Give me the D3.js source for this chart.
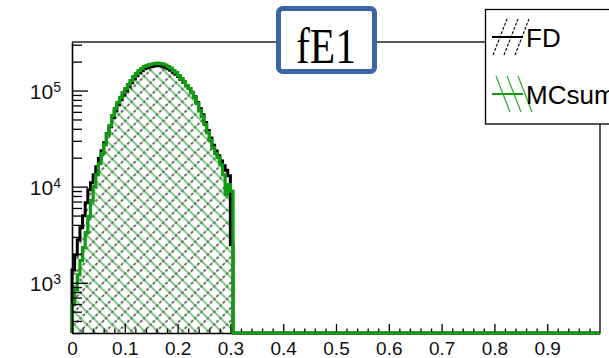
<!DOCTYPE html>
<html><head><meta charset="utf-8">
<script src="https://cdn.jsdelivr.net/npm/d3@7"></script>
<style>html,body{margin:0;padding:0;background:#fff;} svg{display:block;}</style>
</head><body>
<svg id="c" width="609" height="358"></svg>
<script>
// ---- data ----
const binWidth = 0.005;            // histogram bin width; bins beyond the listed ones are empty up to x = 1
const fdCounts = [
  1360, 1950, 2800, 3740, 4990, 6810, 9310, 11000, 13300, 16100,
  19600, 23700, 28700, 35600, 42000, 52000, 61500, 71000, 80000, 90000,
  99500, 109500, 120500, 133000, 142500, 153000, 160500, 169000, 173000, 177000,
  179500, 181500, 183000, 181500, 179500, 175000, 169000, 163000, 155000, 148000,
  140000, 131000, 122000, 112000, 105000, 96000, 86000, 75000, 64500, 56000,
  46500, 38500, 32000, 27000, 23500, 21000, 18500, 16500, 14800, 13000,
  2500
];
const mcCounts = [
  590, 845, 1210, 1700, 2320, 3320, 4870, 7140, 10000, 13300,
  17400, 22100, 27400, 34800, 43200, 55000, 64900, 75000, 84500, 95300,
  105000, 115500, 127000, 140000, 150000, 161000, 169000, 178000, 182000, 186600,
  189000, 191000, 193000, 191000, 189000, 184500, 178000, 171500, 161000, 154000,
  143000, 133000, 124000, 112700, 105000, 95300, 84500, 73300, 61900, 53600,
  44200, 36500, 30100, 25500, 22100, 20000, 16900, 13300, 8250, 10500,
  9000
];
const seriesNames = ["FD", "MCsum"];
const titleText = "fE1";
const xTickLabels = ["0", "0.1", "0.2", "0.3", "0.4", "0.5", "0.6", "0.7", "0.8", "0.9"];
const yDecadeExponents = [3, 4, 5];
const yRange = [300, 3.2e5];

// ---- drawing ----
const W = 609, H = 358;
const svg = d3.select("#c");
svg.append("rect").attr("width", W).attr("height", H).attr("fill", "#fff");

const x = d3.scaleLinear().domain([0, 1]).range([72, 600]);
const y = d3.scaleLog().domain(yRange).range([333, 42]).clamp(true);
const yb = y(yRange[0]);

const GREEN = "#109c10", GREEN_H = "#2ea82e";

const defs = svg.append("defs");
function hatch(id, angle, color, dash, sw) {
  const s = 9;
  const p = defs.append("pattern").attr("id", id)
    .attr("patternUnits", "userSpaceOnUse").attr("width", s).attr("height", s)
    .attr("patternTransform", `rotate(${angle})`);
  p.append("line").attr("x1", 3).attr("y1", 0).attr("x2", 3).attr("y2", s)
    .attr("stroke", color).attr("stroke-width", sw).attr("stroke-dasharray", dash);
}
hatch("hFD", 45, "#111", "3,1.5", 1.2);
hatch("hMC", -45, GREEN_H, null, 1.2);

function stepPath(counts, closed) {
  const p = d3.path();
  p.moveTo(x(0), yb);
  counts.forEach((c, i) => {
    const v = y(Math.max(c, yRange[0]));
    p.lineTo(x(i * binWidth), v);
    p.lineTo(x((i + 1) * binWidth), v);
  });
  p.lineTo(x(counts.length * binWidth), yb);
  if (closed) p.closePath(); else p.lineTo(x(1), yb);
  return p.toString();
}

const gPlot = svg.append("g");
gPlot.append("path").attr("d", stepPath(fdCounts, true)).attr("fill", "url(#hFD)").attr("stroke", "none");
gPlot.append("path").attr("d", stepPath(mcCounts, true)).attr("fill", "url(#hMC)").attr("stroke", "none");
gPlot.append("path").attr("d", stepPath(fdCounts, false)).attr("fill", "none")
  .attr("stroke", "#000").attr("stroke-width", 3).attr("stroke-linejoin", "miter");

// axes
const fontAx = "'Liberation Sans', Arial, sans-serif";
const xMajorVals = d3.range(0, 10).map(i => i / 10);
const xMinorVals = d3.range(0, 50).map(i => i / 50).filter((d, i) => i % 5 !== 0);
const gx = svg.append("g").attr("transform", `translate(0,${yb})`)
  .call(d3.axisBottom(x).tickValues(xMajorVals).tickSizeInner(-9).tickSizeOuter(0)
    .tickPadding(9).tickFormat((d, i) => xTickLabels[i]));
const gxm = svg.append("g").attr("transform", `translate(0,${yb})`)
  .call(d3.axisBottom(x).tickValues(xMinorVals).tickSizeInner(-4.5).tickSizeOuter(0).tickFormat(""));
gxm.select(".domain").remove();

const yMajorVals = yDecadeExponents.map(e => Math.pow(10, e));
const yMinorVals = [];
[2, 3, 4, 5].forEach(e => { for (let m = 2; m <= 9; m++) { const v = m * Math.pow(10, e); if (v >= yRange[0] && v <= yRange[1]) yMinorVals.push(v); } });
const gy = svg.append("g").attr("transform", `translate(${x(0)},0)`)
  .call(d3.axisLeft(y).tickValues(yMajorVals).tickSizeInner(-16).tickSizeOuter(0).tickFormat(""));
const gym = svg.append("g").attr("transform", `translate(${x(0)},0)`)
  .call(d3.axisLeft(y).tickValues(yMinorVals).tickSizeInner(-10).tickSizeOuter(0).tickFormat(""));
gym.select(".domain").remove();

[gx, gxm, gy, gym].forEach(g => {
  g.selectAll(".domain").attr("stroke", "#000").attr("stroke-width", 1.6);
  g.selectAll(".tick line").attr("stroke", "#000").attr("stroke-width", 1.3);
  g.selectAll("text").attr("font-family", fontAx).attr("font-size", 19).attr("fill", "#111");
});

// y labels 10^n
yDecadeExponents.forEach(e => {
  const t = svg.append("text").attr("x", 61).attr("y", y(Math.pow(10, e)) + 8)
    .attr("text-anchor", "end").attr("font-family", fontAx).attr("fill", "#111");
  t.append("tspan").attr("font-size", 21).text("10");
  t.append("tspan").attr("font-size", 14).attr("dy", -7).text(String(e));
});

// MC outline on top
svg.append("path").attr("d", stepPath(mcCounts, false)).attr("fill", "none")
  .attr("stroke", GREEN).attr("stroke-width", 3.2).attr("stroke-linejoin", "miter");
gy.raise(); gym.raise();

// frame
svg.append("line").attr("x1", x(0)).attr("x2", 485).attr("y1", 42).attr("y2", 42)
  .attr("stroke", "#222").attr("stroke-width", 1.6);
svg.append("line").attr("x1", x(1)).attr("x2", x(1)).attr("y1", 124).attr("y2", yb)
  .attr("stroke", "#333").attr("stroke-width", 1.6);

// title box
svg.append("rect").attr("x", 278.5).attr("y", 8.5).attr("width", 96).attr("height", 63).attr("rx", 4)
  .attr("fill", "#fff").attr("stroke", "#3c65a4").attr("stroke-width", 5);
svg.append("text").attr("x", 326).attr("y", 63).attr("text-anchor", "middle")
  .attr("font-family", "'Liberation Serif', 'Times New Roman', serif").attr("font-size", 50)
  .attr("textLength", 60).attr("lengthAdjust", "spacingAndGlyphs").attr("fill", "#000").text(titleText);

// legend
const lg = svg.append("g");
lg.append("rect").attr("x", 485.5).attr("y", 9.5).attr("width", 200).attr("height", 114.5)
  .attr("fill", "#fff").attr("stroke", "#000").attr("stroke-width", 1.3);
const legendItems = [
  { name: seriesNames[0], hatch: "#111", dash: "3,1.5", dir: 1, line: "#000", cy: 37 },
  { name: seriesNames[1], hatch: GREEN_H, dash: null, dir: -1, line: GREEN, cy: 94 }
];
legendItems.forEach(it => {
  // three hatch strokes of the fill sample, then the line sample across them
  [0, 1, 2].forEach(k => {
    const xa = 493 + k * 11, half = 18;
    lg.append("line")
      .attr("x1", it.dir > 0 ? xa : xa + 3).attr("y1", it.dir > 0 ? it.cy + half : it.cy - half)
      .attr("x2", it.dir > 0 ? xa + 14 : xa + 17).attr("y2", it.dir > 0 ? it.cy - half : it.cy + half)
      .attr("stroke", it.hatch).attr("stroke-width", 1.2).attr("stroke-dasharray", it.dash);
  });
  lg.append("line").attr("x1", 492).attr("x2", 523).attr("y1", it.cy).attr("y2", it.cy)
    .attr("stroke", it.line).attr("stroke-width", 2);
  lg.append("text").attr("x", 526).attr("y", it.cy + 9.5).attr("font-family", fontAx)
    .attr("font-size", 26).attr("fill", "#000").text(it.name);
});
</script>
</body></html>
